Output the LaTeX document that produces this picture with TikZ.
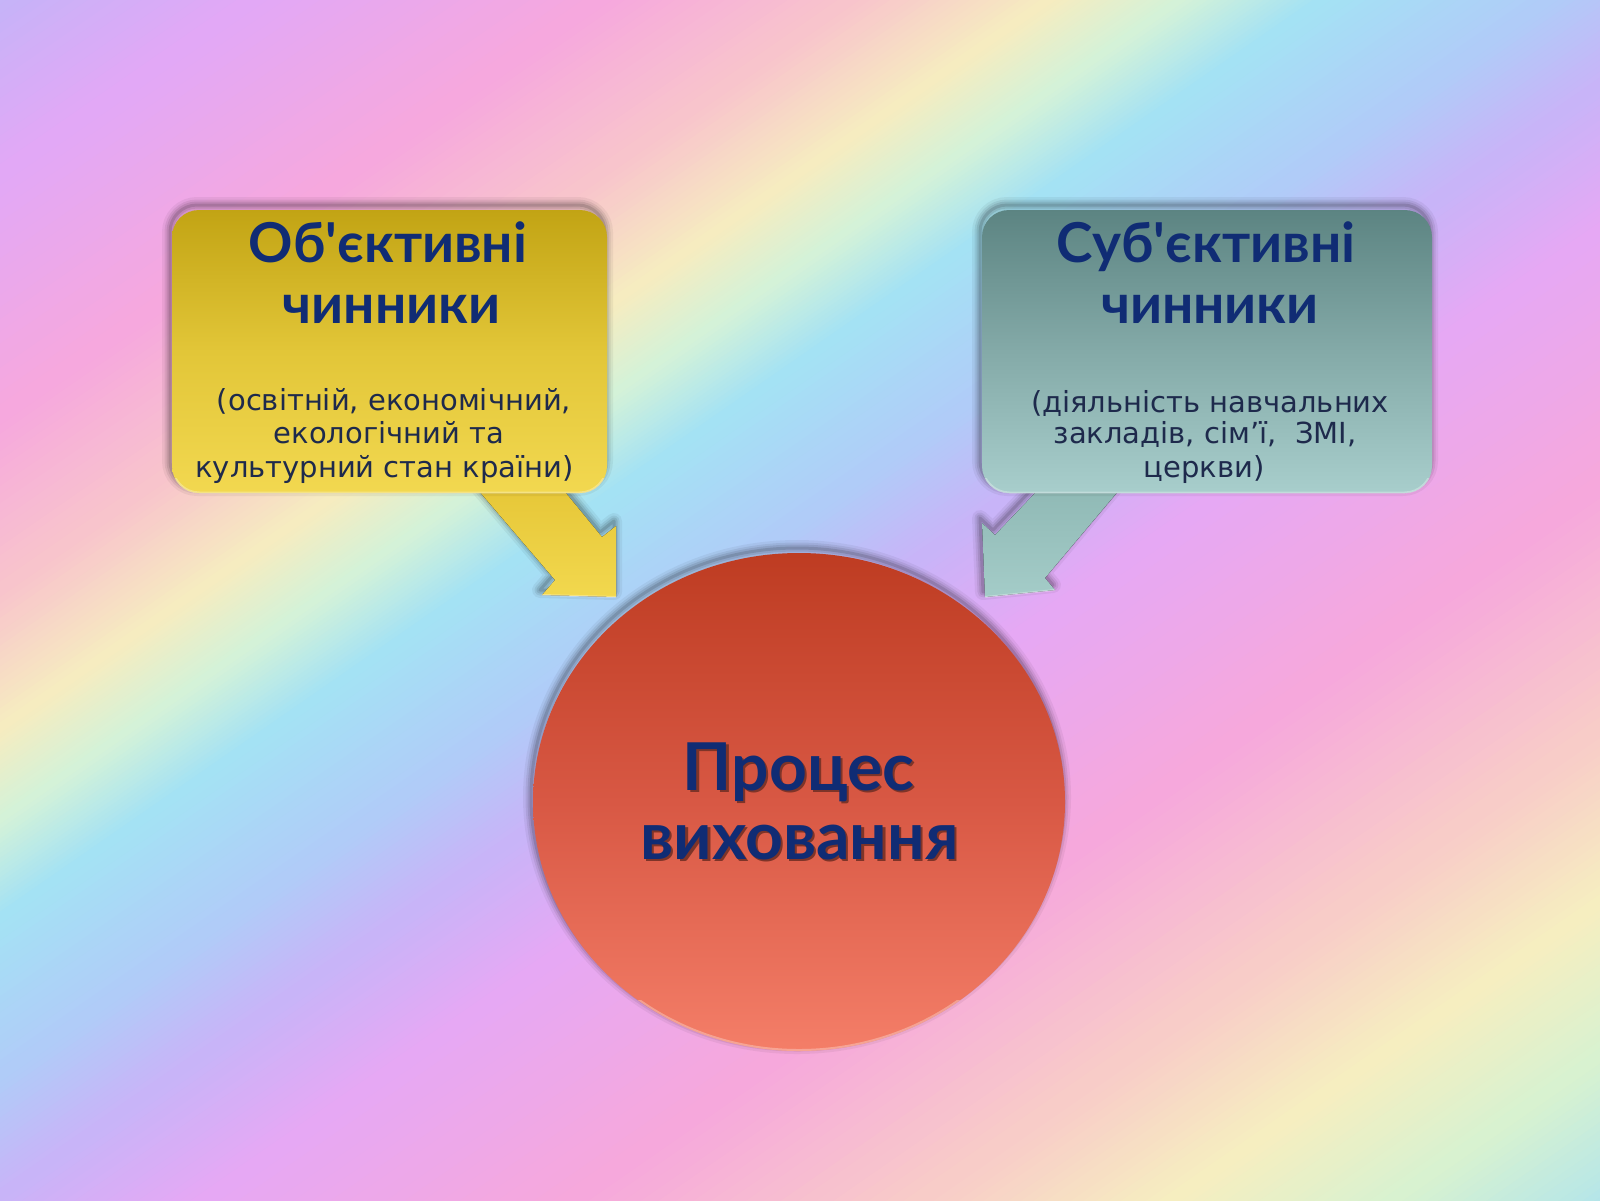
\documentclass[tikz,border=0pt]{standalone}
\usepackage{fontspec}
\setmainfont{DejaVu Sans}
\newfontfamily\latofont{Lato}
\usetikzlibrary{shapes.geometric}

\definecolor{navy}{HTML}{102C74}
\definecolor{bodytext}{HTML}{1E2A4C}
\definecolor{txtshadow}{HTML}{7E3428}
\definecolor{goldTop}{HTML}{C2A414}
\definecolor{goldMid}{HTML}{E2C638}
\definecolor{goldBot}{HTML}{F2D850}
\definecolor{goldArrTop}{HTML}{E4C434}
\definecolor{goldArrBot}{HTML}{F2D84E}
\definecolor{tealTop}{HTML}{5C8482}
\definecolor{tealMid}{HTML}{84AAA8}
\definecolor{tealBot}{HTML}{A8CECC}
\definecolor{tealArrTop}{HTML}{8CB6B2}
\definecolor{tealArrBot}{HTML}{A4CCC8}
\definecolor{redTop}{HTML}{BE3C22}
\definecolor{redMid}{HTML}{D85844}
\definecolor{redBot}{HTML}{F47E68}

\definecolor{bgA}{HTML}{C4B4F8}
\definecolor{bgB}{HTML}{E2A8F6}
\definecolor{bgC}{HTML}{F6A8DE}
\definecolor{bgD}{HTML}{F8C4CC}
\definecolor{bgE}{HTML}{F6ECC0}
\definecolor{bgF}{HTML}{D4F2D8}
\definecolor{bgG}{HTML}{A4E2F4}
\definecolor{bgH}{HTML}{B0CCF8}
\definecolor{bgI}{HTML}{C8B4F8}
\definecolor{bgJ}{HTML}{E6A8F4}
\definecolor{bgK}{HTML}{F6A8DC}
\definecolor{bgL}{HTML}{F8CCC8}
\definecolor{bgM}{HTML}{F6EEC0}
\definecolor{bgN}{HTML}{D8F2D0}
\definecolor{bgO}{HTML}{B0E4EC}

% one band of the background: from s=#1 to s=#2, colour #3 to #4 (s = x + 1.44 y)
\newcommand\bgband[4]{%
  \foreach \i in {0,...,19}{%
    \pgfmathsetmacro\sa{#1+(#2-#1)*\i/20}%
    \pgfmathsetmacro\sb{#1+(#2-#1)*(\i+1)/20+1.5}%
    \pgfmathtruncatemacro\pc{100*\i/19}%
    \fill[#4!\pc!#3] (\sa+7.2,-5) -- (\sb+7.2,-5) -- (\sb-1735.2,1205) -- (\sa-1735.2,1205) -- cycle;
  }}

% soft shadow of a path, shifted upward
\newcommand\softshadow[1]{%
  \begin{scope}[yshift=2.5pt,xshift=-1pt]
    \foreach \w/\o in {8pt/0.05,5.5pt/0.07,3.5pt/0.09,1.5pt/0.12}{%
      \draw[black,opacity=\o,line width=\w,line join=round] #1;}
  \end{scope}}

% text with a small dark shadow below-right
\newcommand\shadowed[1]{\leavevmode\rlap{\kern1.2pt\raisebox{-1.2pt}{\textcolor{txtshadow}{#1}}}#1}

\tikzset{
  titletext/.style={font=\latofont\bfseries\fontsize{27.5}{30}\selectfont, text=navy, inner sep=0pt, anchor=base},
  bodyline/.style={font=\fontsize{14.5}{17}\selectfont, text=bodytext, inner sep=0pt, anchor=base},
  circtext/.style={font=\latofont\bfseries\fontsize{33}{36}\selectfont, text=navy, inner sep=0pt, anchor=base},
  factorbox/.style={rounded corners=13.5pt, minimum width=217.5pt, minimum height=141.5pt, inner sep=0pt},
  rim/.style={white, opacity=0.3, line width=1pt},
}

\begin{document}
\begin{tikzpicture}[x=0.5pt,y=-0.5pt]
\useasboundingbox (0,0) rectangle (1600,1200);

% background
\begin{scope}
  \clip (0,0) rectangle (1600,1200);
  \bgband{-20}{250}{bgA}{bgB}
  \bgband{250}{600}{bgB}{bgC}
  \bgband{600}{850}{bgC}{bgD}
  \bgband{850}{1050}{bgD}{bgE}
  \bgband{1050}{1180}{bgE}{bgF}
  \bgband{1180}{1320}{bgF}{bgG}
  \bgband{1320}{1550}{bgG}{bgH}
  \bgband{1550}{1720}{bgH}{bgI}
  \bgband{1720}{1930}{bgI}{bgJ}
  \bgband{1930}{2300}{bgJ}{bgK}
  \bgband{2300}{2650}{bgK}{bgL}
  \bgband{2650}{2900}{bgL}{bgM}
  \bgband{2900}{3120}{bgM}{bgN}
  \bgband{3120}{3360}{bgN}{bgO}
\end{scope}

% arrows
\softshadow{(461,470) -- (555,580) -- (542,595) -- (616,597) -- (616,526) -- (602,537) -- (547,470) -- cycle}
\fill[top color=goldArrTop, bottom color=goldArrBot]
  (461,470) -- (555,580) -- (542,595) -- (616,597) -- (616,526) -- (602,537) -- (547,470) -- cycle;
\draw[rim] (542,595) -- (616,597);
\softshadow{(1136,470) -- (1045,578) -- (1055,590) -- (985,597) -- (982,523) -- (995,535) -- (1057,470) -- cycle}
\fill[top color=tealArrTop, bottom color=tealArrBot]
  (1136,470) -- (1045,578) -- (1055,590) -- (985,597) -- (982,523) -- (995,535) -- (1057,470) -- cycle;
\draw[rim] (1055,590) -- (985,597);

% boxes
\softshadow{[rounded corners=13.5pt] (172,210) rectangle (607,493)}
\softshadow{[rounded corners=13.5pt] (982,210) rectangle (1432,493)}
\node[factorbox, top color=goldTop, bottom color=goldBot, middle color=goldMid] (box1) at (389.5,351.5) {};
\node[factorbox, minimum width=225pt, top color=tealTop, bottom color=tealBot, middle color=tealMid] (box2) at (1207,351.5) {};
\begin{scope}
  \clip (150,478) rectangle (1450,500);
  \draw[rim, rounded corners=13.5pt] (172.5,210.5) rectangle (606.5,492.5);
  \draw[rim, rounded corners=13.5pt] (982.5,210.5) rectangle (1431.5,492.5);
\end{scope}

% circle
\softshadow{(799,802) ellipse [x radius=266, y radius=249]}
\node[ellipse, minimum width=266pt, minimum height=249pt, inner sep=0pt,
      top color=redTop, bottom color=redBot, middle color=redMid] (proc) at (799,802) {};
\begin{scope}
  \clip (520,1000) rectangle (1080,1060);
  \draw[rim] (799,802) ellipse [x radius=265, y radius=248];
\end{scope}

% texts of box 1
\node[titletext] (b1t1) at (388,262) {Об\textquotesingle єктивні};
\node[titletext] (b1t2) at (391.5,323) {чинники};
\node[bodyline] (b1l1) at (394,410) {(освітній, економічний,};
\node[bodyline] (b1l2) at (389,443) {екологічний та};
\node[bodyline] (b1l3) at (384.5,477) {культурний стан країни)};

% texts of box 2
\node[titletext] (b2t1) at (1206,262) {Суб\textquotesingle єктивні};
\node[titletext] (b2t2) at (1210,323) {чинники};
\node[bodyline] (b2l1) at (1210,412) {(діяльність навчальних};
\node[bodyline] (b2l2) at (1205,443) {закладів, сім’ї,\ \ ЗМІ,};
\node[bodyline] (b2l3) at (1204,477) {церкви)};

% text of the circle
\node[circtext] (c1) at (798.5,790) {\shadowed{Процес}};
\node[circtext] (c2) at (799.5,859) {\shadowed{виховання}};
\end{tikzpicture}
\end{document}
